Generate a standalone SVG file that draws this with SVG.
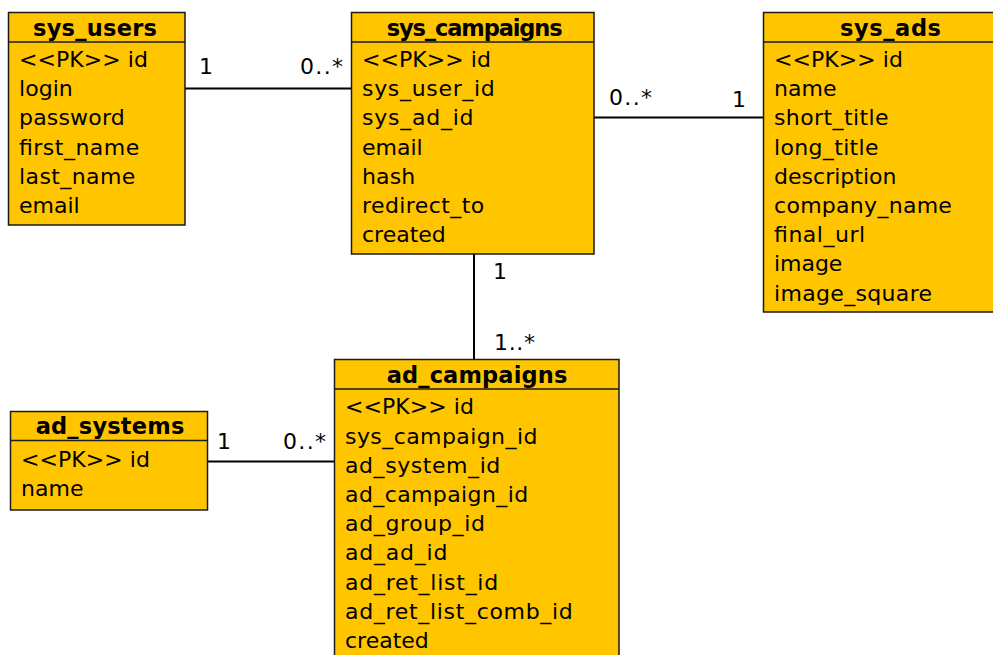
<svg xmlns="http://www.w3.org/2000/svg" width="993" height="655" viewBox="0 0 993 655">
  <style>
    .box { fill: #FFC600; stroke: #1a1a1a; stroke-width: 1.5; }
    .sep { stroke: #1a1a1a; stroke-width: 1.5; }
    .title { font-family: "DejaVu Sans", Verdana, sans-serif; font-size: 22.5px; font-weight: bold; fill: #000; text-anchor: middle; }
    .attr { font-family: "DejaVu Sans", Verdana, sans-serif; font-size: 22px; fill: #000; }
    .mult { font-family: "DejaVu Sans", Verdana, sans-serif; font-size: 22px; fill: #000; }
    .link { stroke: #000; stroke-width: 2; fill: none; }
  </style>
  <rect width="993" height="655" fill="#ffffff"/>

  <g id="connectors">
    <line class="link" x1="185" y1="88.5" x2="351" y2="88.5"/>
    <line class="link" x1="594" y1="117.5" x2="763" y2="117.5"/>
    <line class="link" x1="474" y1="254" x2="474" y2="360"/>
    <line class="link" x1="207" y1="461.5" x2="334" y2="461.5"/>
    <text class="mult" x="199" y="74">1</text>
    <text class="mult" x="300" y="74" textLength="43" lengthAdjust="spacing">0..*</text>
    <text class="mult" x="609" y="105" textLength="43" lengthAdjust="spacing">0..*</text>
    <text class="mult" x="732" y="107">1</text>
    <text class="mult" x="493" y="279">1</text>
    <text class="mult" x="494" y="350" textLength="41" lengthAdjust="spacing">1..*</text>
    <text class="mult" x="217" y="449">1</text>
    <text class="mult" x="283" y="449" textLength="43" lengthAdjust="spacing">0..*</text>
  </g>

  <g id="sys_users">
    <rect class="box" x="8.5" y="12.5" width="176.5" height="212.5"/>
    <line class="sep" x1="8.5" y1="42" x2="185" y2="42"/>
    <text class="title" x="95" y="36" textLength="124" lengthAdjust="spacing">sys_users</text>
    <text class="attr" x="19" y="67" textLength="128.9" lengthAdjust="spacing">&lt;&lt;PK&gt;&gt; id</text>
    <text class="attr" x="19" y="96.2" textLength="53.8" lengthAdjust="spacing">login</text>
    <text class="attr" x="19" y="125.4" textLength="105.7" lengthAdjust="spacing">password</text>
    <text class="attr" x="19" y="154.6" textLength="120.3" lengthAdjust="spacing">first_name</text>
    <text class="attr" x="19" y="183.8" textLength="116.3" lengthAdjust="spacing">last_name</text>
    <text class="attr" x="19" y="213" textLength="60.6" lengthAdjust="spacing">email</text>
  </g>

  <g id="sys_campaigns">
    <rect class="box" x="351.5" y="12.5" width="242.5" height="241.5"/>
    <line class="sep" x1="351.5" y1="42" x2="594" y2="42"/>
    <text class="title" x="474.7" y="36" textLength="176" lengthAdjust="spacing">sys_campaigns</text>
    <text class="attr" x="362" y="67" textLength="128.9" lengthAdjust="spacing">&lt;&lt;PK&gt;&gt; id</text>
    <text class="attr" x="362" y="96.2" textLength="132.8" lengthAdjust="spacing">sys_user_id</text>
    <text class="attr" x="362" y="125.4" textLength="111.5" lengthAdjust="spacing">sys_ad_id</text>
    <text class="attr" x="362" y="154.6" textLength="60.6" lengthAdjust="spacing">email</text>
    <text class="attr" x="362" y="183.8" textLength="53.3" lengthAdjust="spacing">hash</text>
    <text class="attr" x="362" y="213" textLength="122.2" lengthAdjust="spacing">redirect_to</text>
    <text class="attr" x="362" y="242.2" textLength="83.8" lengthAdjust="spacing">created</text>
  </g>

  <g id="sys_ads">
    <rect class="box" x="763.5" y="12.5" width="240" height="299.5"/>
    <line class="sep" x1="763.5" y1="42" x2="1003" y2="42"/>
    <text class="title" x="890.5" y="36" textLength="101" lengthAdjust="spacing">sys_ads</text>
    <text class="attr" x="774" y="67" textLength="128.9" lengthAdjust="spacing">&lt;&lt;PK&gt;&gt; id</text>
    <text class="attr" x="774" y="96.2" textLength="62.5" lengthAdjust="spacing">name</text>
    <text class="attr" x="774" y="125.4" textLength="114.6" lengthAdjust="spacing">short_title</text>
    <text class="attr" x="774" y="154.6" textLength="104.6" lengthAdjust="spacing">long_title</text>
    <text class="attr" x="774" y="183.8" textLength="122.5" lengthAdjust="spacing">description</text>
    <text class="attr" x="774" y="213" textLength="177.9" lengthAdjust="spacing">company_name</text>
    <text class="attr" x="774" y="242.2" textLength="91.2" lengthAdjust="spacing">final_url</text>
    <text class="attr" x="774" y="271.4" textLength="68.4" lengthAdjust="spacing">image</text>
    <text class="attr" x="774" y="300.6" textLength="158.1" lengthAdjust="spacing">image_square</text>
  </g>

  <g id="ad_systems">
    <rect class="box" x="10.5" y="411.5" width="197" height="98.5"/>
    <line class="sep" x1="10.5" y1="440.5" x2="207.5" y2="440.5"/>
    <text class="title" x="110" y="434" textLength="148.7" lengthAdjust="spacing">ad_systems</text>
    <text class="attr" x="21" y="466.5" textLength="128.9" lengthAdjust="spacing">&lt;&lt;PK&gt;&gt; id</text>
    <text class="attr" x="21" y="495.7" textLength="62.5" lengthAdjust="spacing">name</text>
  </g>

  <g id="ad_campaigns">
    <rect class="box" x="334.5" y="359.5" width="284.5" height="310"/>
    <line class="sep" x1="334.5" y1="389" x2="619" y2="389"/>
    <text class="title" x="477" y="383" textLength="180.7" lengthAdjust="spacing">ad_campaigns</text>
    <text class="attr" x="345" y="414.3" textLength="128.9" lengthAdjust="spacing">&lt;&lt;PK&gt;&gt; id</text>
    <text class="attr" x="345" y="443.5" textLength="192.4" lengthAdjust="spacing">sys_campaign_id</text>
    <text class="attr" x="345" y="472.7" textLength="155.3" lengthAdjust="spacing">ad_system_id</text>
    <text class="attr" x="345" y="501.9" textLength="183.2" lengthAdjust="spacing">ad_campaign_id</text>
    <text class="attr" x="345" y="531.1" textLength="140" lengthAdjust="spacing">ad_group_id</text>
    <text class="attr" x="345" y="560.3" textLength="102.4" lengthAdjust="spacing">ad_ad_id</text>
    <text class="attr" x="345" y="589.5" textLength="153.2" lengthAdjust="spacing">ad_ret_list_id</text>
    <text class="attr" x="345" y="618.7" textLength="227.8" lengthAdjust="spacing">ad_ret_list_comb_id</text>
    <text class="attr" x="345" y="647.9" textLength="83.8" lengthAdjust="spacing">created</text>
  </g>
</svg>
